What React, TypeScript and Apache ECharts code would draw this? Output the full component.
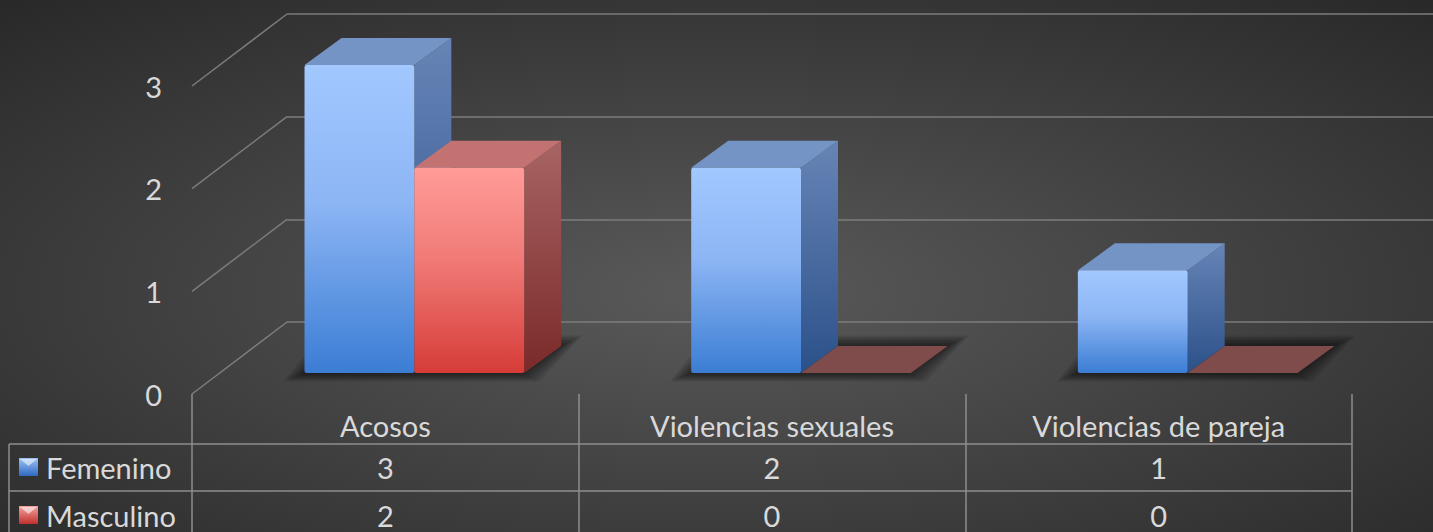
import React, { useEffect, useRef } from "react";
import * as echarts from "echarts";

const categories = ["Acosos", "Violencias sexuales", "Violencias de pareja"];
const seriesNames = ["Femenino", "Masculino"];
const femenino = [3, 2, 1];
const masculino = [2, 0, 0];
const yTicks = [0, 1, 2, 3];

const W = 1433;
const H = 532;
const FRONT = { left: 192, top: 86, width: 1160, height: 308 };
const BACK_DX = 95;
const BACK_DY = -72;
const BAR_FRONT_DX = 29;
const BAR_FRONT_DY = -21;
const BAR_DX = 37;
const BAR_DY = -27;
const BAR_FRAC = 0.284;
const FONT = "Lato, 'Open Sans', sans-serif";
const FS = 29;
const TXT = "#d9d9d9";
const GRID_COLOR = "#7c7c7c";
const TABLE_COLOR = "#8e8e8e";

const lg = (stops: [number, string][]) =>
  new echarts.graphic.LinearGradient(0, 0, 0, 1, stops.map(([offset, color]) => ({ offset, color })));

const palettes = [
  {
    front: () => lg([[0, "#a2c8ff"], [0.45, "#8cb5f4"], [1, "#3b7dd4"]]),
    top: "#7594c6",
    side: () => lg([[0, "#6784b6"], [1, "#2b5189"]]),
    flat: "#4a6a9c",
    icon: () => lg([[0, "#9cc2f7"], [1, "#2f6ac0"]]),
  },
  {
    front: () => lg([[0, "#ff9c98"], [0.45, "#f07a76"], [1, "#d63c38"]]),
    top: "#c27371",
    side: () => lg([[0, "#a86464"], [1, "#7a2a28"]]),
    flat: "#7f4b4b",
    icon: () => lg([[0, "#f4a3a0"], [1, "#c0302c"]]),
  },
];

function barSeries(name: string, values: number[], idx: number) {
  const pal = palettes[idx];
  return {
    type: "custom",
    name,
    xAxisIndex: 0,
    yAxisIndex: 0,
    z: 5 + idx,
    data: values.map((v, i) => [i, v]),
    renderItem: (params: any, api: any) => {
      const i = api.value(0);
      const v = api.value(1);
      const band = api.size([1, 0])[0];
      const bw = band * BAR_FRAC;
      const base = api.coord([i, 0]);
      const topPt = api.coord([i, v]);
      const x = base[0] + BAR_FRONT_DX + (idx === 0 ? -bw : 0);
      const yb = base[1] + BAR_FRONT_DY;
      const yt = topPt[1] + BAR_FRONT_DY;
      const children: any[] = [];
      if (v > 0) {
        children.push({
          type: "polygon",
          shape: { points: [[x + bw, yt], [x + bw + BAR_DX, yt + BAR_DY], [x + bw + BAR_DX, yb + BAR_DY], [x + bw, yb]] },
          style: { fill: pal.side() },
        });
        children.push({
          type: "polygon",
          shape: { points: [[x, yt], [x + bw, yt], [x + bw + BAR_DX, yt + BAR_DY], [x + BAR_DX, yt + BAR_DY]] },
          style: { fill: pal.top },
        });
        children.push({
          type: "rect",
          shape: { x, y: yt, width: bw, height: yb - yt, r: 2 },
          style: { fill: pal.front() },
        });
      } else {
        children.push({
          type: "polygon",
          shape: { points: [[x, yb], [x + bw, yb], [x + bw + BAR_DX, yb + BAR_DY], [x + BAR_DX, yb + BAR_DY]] },
          style: { fill: pal.flat },
        });
      }
      return { type: "group", children };
    },
  };
}

function tableSeries(values: number[], row: number) {
  return {
    type: "custom",
    xAxisIndex: 0,
    yAxisIndex: 0,
    z: 10,
    silent: true,
    data: values.map((v, i) => [i, v]),
    renderItem: (params: any, api: any) => {
      const i = api.value(0);
      const v = api.value(1);
      const p = api.coord([i, 0]);
      const cs = params.coordSys;
      return {
        type: "text",
        x: p[0],
        y: cs.y + cs.height + 73 + row * 48,
        style: { text: String(v), fill: TXT, fontSize: FS, fontFamily: FONT, align: "center", verticalAlign: "middle" },
      };
    },
  };
}

export default function App() {
  const ref = useRef<HTMLDivElement>(null);
  useEffect(() => {
    document.body.style.margin = "0";
    const chart = echarts.init(ref.current!, null, { renderer: "svg" });
    const option: any = {
      animation: false,
      graphic: [
        {
          type: "rect",
          z: -100,
          silent: true,
          shape: { x: 0, y: 0, width: W, height: H },
          style: {
            fill: new echarts.graphic.RadialGradient(0.5, 0.55, 0.75, [
              { offset: 0, color: "#5a5a5a" },
              { offset: 1, color: "#282828" },
            ]),
          },
        },
        { type: "line", z: 1, shape: { x1: 9, y1: 444, x2: 1352, y2: 444 }, style: { stroke: TABLE_COLOR, lineWidth: 1.5 } },
        { type: "line", z: 1, shape: { x1: 9, y1: 491, x2: 1352, y2: 491 }, style: { stroke: TABLE_COLOR, lineWidth: 1.5 } },
        { type: "line", z: 1, shape: { x1: 9, y1: 444, x2: 9, y2: 540 }, style: { stroke: TABLE_COLOR, lineWidth: 1.5 } },
        ...seriesNames.flatMap((n, r) => [
          {
            type: "rect",
            z: 2,
            shape: { x: 19, y: 458 + r * 48, width: 19, height: 18 },
            style: { fill: palettes[r].icon() },
          },
          {
            type: "polygon",
            z: 3,
            shape: { points: [[20, 459 + r * 48], [37, 459 + r * 48], [28.5, 466 + r * 48]] },
            style: { fill: "rgba(255,255,255,0.55)" },
          },
          {
            type: "text",
            z: 3,
            x: 46,
            y: 467 + r * 48,
            style: { text: n, fill: TXT, fontSize: FS, fontFamily: FONT, verticalAlign: "middle" },
          },
        ]),
      ],
      grid: [
        { left: FRONT.left, top: FRONT.top, width: FRONT.width, height: FRONT.height },
        { left: FRONT.left + BACK_DX, top: FRONT.top + BACK_DY, right: 0, height: FRONT.height },
      ],
      xAxis: [
        {
          type: "category",
          gridIndex: 0,
          data: categories,
          axisLine: { show: false },
          axisTick: { show: true, length: 150, lineStyle: { color: TABLE_COLOR, width: 1.5 } },
          axisLabel: { color: TXT, fontSize: FS, fontFamily: FONT, margin: 31, verticalAlign: "middle" },
          splitLine: { show: false },
        },
        { type: "category", gridIndex: 1, data: categories, show: false },
      ],
      yAxis: [
        {
          type: "value",
          gridIndex: 0,
          min: 0,
          max: 3,
          interval: 1,
          axisLine: { show: false },
          axisTick: { show: false },
          splitLine: { show: false },
          axisLabel: { color: TXT, fontSize: FS, fontFamily: FONT, margin: 30 },
        },
        {
          type: "value",
          gridIndex: 1,
          min: 0,
          max: 3,
          interval: 1,
          axisLine: { show: false },
          axisTick: { show: false },
          axisLabel: { show: false },
          splitLine: { show: true, lineStyle: { color: GRID_COLOR, width: 1.5 } },
        },
      ],
      series: [
        {
          type: "custom",
          xAxisIndex: 0,
          yAxisIndex: 0,
          z: 1,
          silent: true,
          data: yTicks.map((v) => [0, v]),
          renderItem: (params: any, api: any) => {
            const y = api.coord([0, api.value(1)])[1];
            const x0 = params.coordSys.x;
            return {
              type: "line",
              shape: { x1: x0, y1: y, x2: x0 + BACK_DX, y2: y + BACK_DY },
              style: { stroke: GRID_COLOR, lineWidth: 1.5 },
            };
          },
        },
        {
          type: "custom",
          xAxisIndex: 0,
          yAxisIndex: 0,
          z: 3,
          silent: true,
          data: categories.map((c, i) => [i, 0]),
          renderItem: (params: any, api: any) => {
            const i = api.value(0);
            const band = api.size([1, 0])[0];
            const bw = band * BAR_FRAC;
            const base = api.coord([i, 0]);
            const xl = base[0] + BAR_FRONT_DX - bw;
            const xr = base[0] + BAR_FRONT_DX + bw;
            const yb = base[1] + BAR_FRONT_DY;
            const layers: any[] = [];
            for (let k = 7; k >= 1; k--) {
              const l = 3 * k;
              const r = 3 * k;
              const d = 1.2 * k;
              const u = 1.5 * k;
              layers.push({
                type: "polygon",
                shape: {
                  points: [
                    [xl - l, yb + d],
                    [xr + r - 6, yb + d],
                    [xr + BAR_DX + r, yb + BAR_DY - u],
                    [xl + BAR_DX - l, yb + BAR_DY - u],
                  ],
                },
                style: { fill: "rgba(0,0,0,0.09)" },
              });
            }
            return { type: "group", children: layers };
          },
        },
        barSeries(seriesNames[0], femenino, 0),
        barSeries(seriesNames[1], masculino, 1),
        tableSeries(femenino, 0),
        tableSeries(masculino, 1),
      ],
    };
    chart.setOption(option);
    return () => chart.dispose();
  }, []);
  return <div ref={ref} style={{ width: W, height: H }} />;
}
